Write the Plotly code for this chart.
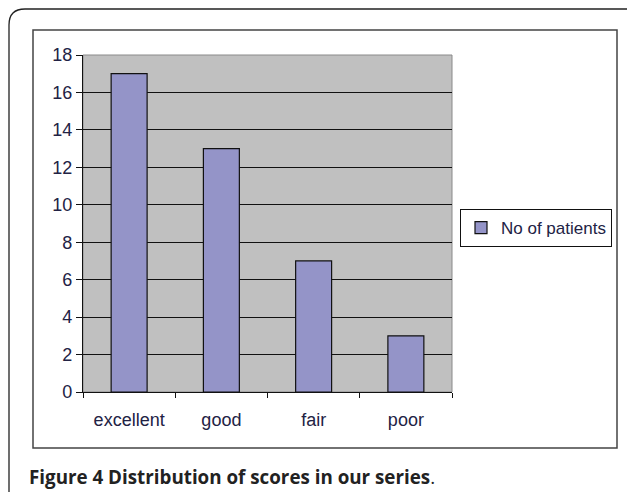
import plotly.graph_objects as go

categories = ["excellent", "good", "fair", "poor"]
patients = [17, 13, 7, 3]
y_ticks = [0, 2, 4, 6, 8, 10, 12, 14, 16, 18]
series_name = "No of patients"
caption = "<b>Figure 4 Distribution of scores in our series</b>."

W, H = 627, 492
PL, PR, PT, PB = 83, 452, 55, 392  # plot area in pixels


def px(x):
    return (x - PL) / (PR - PL)


def py(y):
    return (PB - y) / (PB - PT)


fig = go.Figure()
fig.add_trace(go.Bar(
    x=categories, y=patients, name=series_name,
    marker=dict(color="#9494C8", line=dict(color="#111111", width=1.2)),
    showlegend=True,
))

shapes = []
# outer rounded frame
r = 16
outer = (f"M {px(9)},{py(500)} L {px(9)},{py(9 + r)} "
         f"Q {px(9)},{py(9)} {px(9 + r)},{py(9)} L {px(640)},{py(9)}")
shapes.append(dict(type="path", path=outer, xref="paper", yref="paper",
                   line=dict(color="#222222", width=1.3), layer="below"))
# inner chart frame
shapes.append(dict(type="rect", xref="paper", yref="paper",
                   x0=px(33), x1=px(617), y0=py(448), y1=py(30),
                   line=dict(color="#444444", width=1.5), layer="below"))
# plot area border (gray)
shapes.append(dict(type="rect", xref="paper", yref="paper",
                   x0=0, x1=1, y0=0, y1=1,
                   line=dict(color="#8a8a8a", width=1), layer="below"))

fig.update_layout(
    width=W, height=H,
    margin=dict(l=PL, r=W - PR, t=PT, b=H - PB, autoexpand=False),
    paper_bgcolor="white",
    plot_bgcolor="#C0C0C0",
    bargap=0.61,
    shapes=shapes,
    font=dict(family="Liberation Sans, Arial, sans-serif", size=18, color="#222222"),
    legend=dict(
        x=px(460), y=py(209), xanchor="left", yanchor="top",
        xref="paper", yref="paper",
        bordercolor="#111111", borderwidth=1, bgcolor="white",
        font=dict(size=17, color="#222244"),
        itemwidth=30, tracegroupgap=0,
    ),
    annotations=[dict(
        text=caption, xref="paper", yref="paper",
        x=px(27), y=py(477), xanchor="left", yanchor="middle",
        showarrow=False,
        font=dict(family="Open Sans, Noto Sans, sans-serif", size=18.8, color="#222222"),
    )],
)

fig.update_xaxes(
    type="category", tickson="boundaries", ticks="outside", ticklen=5,
    tickcolor="#111111", showline=True, linecolor="#111111", linewidth=1.2,
    showgrid=False, ticklabelstandoff=11,
    tickfont=dict(size=18, color="#222244"),
)
fig.update_yaxes(
    range=[0, 18], tickvals=y_ticks, ticks="outside", ticklen=6,
    tickcolor="#111111", showline=True, linecolor="#111111", linewidth=1.2,
    showgrid=True, gridcolor="#111111", gridwidth=1, zeroline=False,
    tickfont=dict(size=18, color="#222244"),
)

fig.write_html("out.html")
